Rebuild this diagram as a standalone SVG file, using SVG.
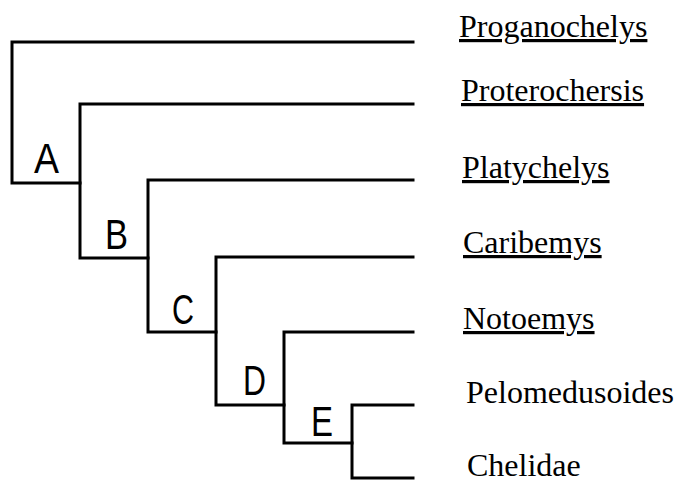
<svg xmlns="http://www.w3.org/2000/svg" width="680" height="483" viewBox="0 0 680 483">
<style>
.br{fill:none;stroke:#000;stroke-width:3;stroke-linecap:square;stroke-linejoin:miter}
.tx{font-family:"Liberation Serif","Times New Roman",serif;font-size:32px;fill:#000}
.u{text-decoration:underline}
.lb{font-family:"Liberation Sans",Arial,sans-serif;font-size:42px;fill:#000}
</style>
<rect width="680" height="483" fill="#fff"/>
<g id="connectors">
<path class="br" d="M413,42 H12 V183 H80"/>
<path class="br" d="M413,104 H80 V258 H148"/>
<path class="br" d="M413,180 H148 V332 H216"/>
<path class="br" d="M413,257 H216 V405 H284"/>
<path class="br" d="M413,332 H284 V443 H352"/>
<path class="br" d="M413,405 H352 V478 H413"/>
</g>
<g id="node-A"><text class="lb" x="34" y="173" textLength="25" lengthAdjust="spacingAndGlyphs">A</text></g>
<g id="node-B"><text class="lb" x="105" y="249" textLength="23" lengthAdjust="spacingAndGlyphs">B</text></g>
<g id="node-C"><text class="lb" x="172" y="324" textLength="22" lengthAdjust="spacingAndGlyphs">C</text></g>
<g id="node-D"><text class="lb" x="243" y="395" textLength="23" lengthAdjust="spacingAndGlyphs">D</text></g>
<g id="node-E"><text class="lb" x="311" y="436" textLength="22" lengthAdjust="spacingAndGlyphs">E</text></g>
<g id="taxon-Proganochelys"><text class="tx u" x="459" y="37">Proganochelys</text></g>
<g id="taxon-Proterochersis"><text class="tx u" x="461" y="101">Proterochersis</text></g>
<g id="taxon-Platychelys"><text class="tx u" x="462" y="178">Platychelys</text></g>
<g id="taxon-Caribemys"><text class="tx u" x="463" y="253">Caribemys</text></g>
<g id="taxon-Notoemys"><text class="tx u" x="463" y="329">Notoemys</text></g>
<g id="taxon-Pelomedusoides"><text class="tx" x="466" y="403">Pelomedusoides</text></g>
<g id="taxon-Chelidae"><text class="tx" x="467" y="476">Chelidae</text></g>
</svg>
